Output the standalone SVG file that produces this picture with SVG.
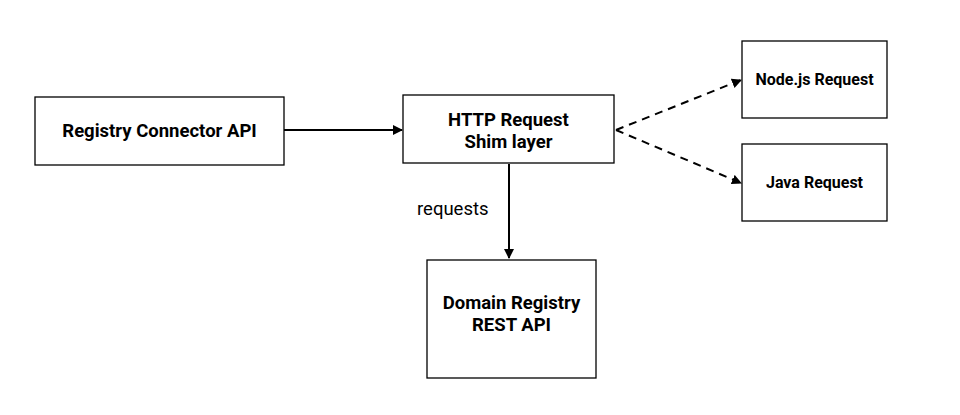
<svg xmlns="http://www.w3.org/2000/svg" width="960" height="415" viewBox="0 0 960 415">
<style>
.box{fill:#fff;stroke:#000;stroke-width:1.3}
.t{font-family:Roboto,"Liberation Sans",sans-serif;font-weight:bold;font-size:18.5px;text-anchor:middle;fill:#000}
.s{font-size:16px}
.c{stroke:#000;stroke-width:2;fill:none}
.d{stroke-dasharray:8,6}
.lbl{font-family:Roboto,"Liberation Sans",sans-serif;font-size:18.5px;fill:#000}
</style>
<defs>
<marker id="ah" markerWidth="10" markerHeight="10" refX="9" refY="5" orient="auto" markerUnits="userSpaceOnUse" viewBox="0 0 10 10">
<path d="M0,0 L10,5 L0,10 z" fill="#000"/>
</marker>
</defs>
<rect width="960" height="415" fill="#fff"/>
<g id="connectors">
<line class="c" x1="284" y1="130" x2="402" y2="130" marker-end="url(#ah)"/>
<line class="c" x1="509" y1="164" x2="509" y2="258" marker-end="url(#ah)"/>
<line class="c d" x1="616" y1="130" x2="741" y2="80" marker-end="url(#ah)"/>
<line class="c d" x1="616" y1="130" x2="741" y2="183" marker-end="url(#ah)"/>
<text class="lbl" x="417" y="215">requests</text>
</g>
<g id="registry-connector">
<rect class="box" x="35" y="97" width="249" height="68"/>
<text class="t" x="159.5" y="137">Registry Connector API</text>
</g>
<g id="http-shim">
<rect class="box" x="403" y="95" width="211" height="68"/>
<text class="t" x="508.5" y="125.5">HTTP Request</text>
<text class="t" x="508.5" y="148">Shim layer</text>
</g>
<g id="nodejs">
<rect class="box" x="742" y="41" width="145" height="77"/>
<text class="t s" x="814.5" y="85">Node.js Request</text>
</g>
<g id="java">
<rect class="box" x="742" y="144" width="145" height="77"/>
<text class="t s" x="814.5" y="188">Java Request</text>
</g>
<g id="domain-registry">
<rect class="box" x="427" y="260" width="169" height="118"/>
<text class="t" x="511.5" y="308.5">Domain Registry</text>
<text class="t" x="511.5" y="331">REST API</text>
</g>
</svg>
